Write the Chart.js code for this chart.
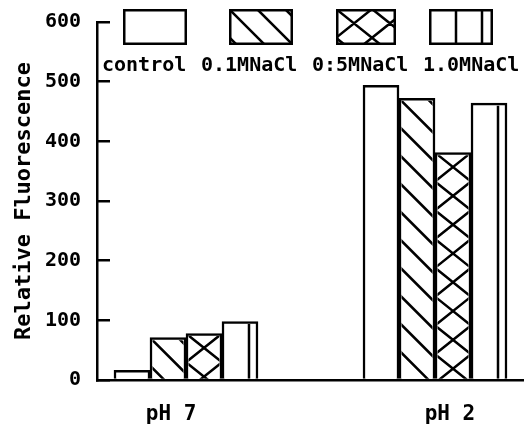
<!DOCTYPE html>
<html>
<head>
<meta charset="utf-8">
<script src="https://cdn.jsdelivr.net/npm/chart.js@4.4.1/dist/chart.umd.min.js"></script>
<style>
  html, body { margin: 0; padding: 0; background: #fff; overflow: hidden; }
</style>
</head>
<body>
<canvas id="chart" width="524" height="429"></canvas>
<script>
// pH groups and the fluorescence of each salt treatment
const groups = ['pH 7', 'pH 2'];
const seriesNames = ['control', '0.1MNaCl', '0:5MNaCl', '1.0MNaCl'];
const control = [16, 494];
const nacl01 = [71, 472];
const nacl05 = [78, 381];
const nacl10 = [98, 464];
const yTicks = [0, 100, 200, 300, 400, 500, 600];

const ink = '#000';
const LINE = 2.5;
const FONT = 'DejaVu Sans Mono';
const hatches = ['plain', 'diag', 'cross', 'vert'];

// legend layout
const legendLeft = [123, 229, 336, 429];
const legendWidth = [64, 64, 60, 64];
const legendTop = 9, legendHeight = 36;
const legendTextX = [102, 201, 312, 423];
const legendTextY = 71;

// where the group names sit, relative to the group centre
const labelShift = [-0.06, 0.06];

// draw the fill pattern anchored at (ax, ay), clipped to the given box
function drawHatch(ctx, kind, ax, ay, aw, cx, cy, cw, ch) {
  if (kind === 'plain' || cw <= 0 || ch <= 0) return;
  ctx.save();
  ctx.beginPath();
  ctx.rect(cx, cy, cw, ch);
  ctx.clip();
  ctx.strokeStyle = ink;
  ctx.lineWidth = LINE;
  ctx.beginPath();
  const bottom = cy + ch;
  const h = bottom - ay;
  if (kind === 'diag') {
    const step = 28;
    for (let k = -Math.ceil(h / step) * step; k <= aw; k += step) {
      ctx.moveTo(ax + k, ay);
      ctx.lineTo(ax + k + h + 2, ay + h + 2);
    }
  } else if (kind === 'cross') {
    const s = 0.8, P = 36 * s;
    const nMax = Math.ceil((h + aw * s) / P) + 1;
    for (let n = -Math.ceil(aw * s / P) - 1; n <= nMax; n++) {
      ctx.moveTo(ax, ay + n * P);
      ctx.lineTo(ax + aw, ay + n * P + aw * s);
      ctx.moveTo(ax, ay + n * P);
      ctx.lineTo(ax + aw, ay + n * P - aw * s);
    }
  } else if (kind === 'vert') {
    for (let x = ax + 27; x < ax + aw; x += 26) {
      ctx.moveTo(x, ay);
      ctx.lineTo(x, bottom);
    }
  }
  ctx.stroke();
  ctx.restore();
}

const hatchBars = {
  id: 'hatchBars',
  afterDatasetsDraw(chart) {
    const ctx = chart.ctx;
    chart.data.datasets.forEach((ds, i) => {
      const meta = chart.getDatasetMeta(i);
      meta.data.forEach(bar => {
        const p = bar.getProps(['x', 'y', 'base', 'width'], true);
        const left = p.x - p.width / 2;
        const top = Math.min(p.y, p.base);
        const hgt = Math.abs(p.base - p.y);
        drawHatch(ctx, ds.hatch, left, top, p.width,
          left + LINE, top + LINE, p.width - 2 * LINE, hgt - LINE);
      });
    });
  }
};

const boxLegend = {
  id: 'boxLegend',
  afterDraw(chart) {
    const ctx = chart.ctx;
    ctx.save();
    chart.data.datasets.forEach((ds, i) => {
      const x = legendLeft[i], w = legendWidth[i];
      ctx.fillStyle = '#fff';
      ctx.fillRect(x, legendTop, w, legendHeight);
      drawHatch(ctx, ds.hatch, x, legendTop, w, x, legendTop, w, legendHeight);
      ctx.strokeStyle = ink;
      ctx.lineWidth = LINE;
      ctx.strokeRect(x + LINE / 2, legendTop + LINE / 2, w - LINE, legendHeight - LINE);
      ctx.fillStyle = ink;
      ctx.font = 'bold 20px "' + FONT + '"';
      ctx.textAlign = 'left';
      ctx.textBaseline = 'alphabetic';
      ctx.fillText(ds.label, legendTextX[i], legendTextY);
    });
    ctx.restore();
  }
};

const toPoints = vals => vals.map((v, i) => ({ x: i + 1, y: v }));

const datasets = [control, nacl01, nacl05, nacl10].map((vals, i) => ({
  label: seriesNames[i],
  data: toPoints(vals),
  hatch: hatches[i],
  backgroundColor: '#fff',
  borderColor: ink,
  borderWidth: LINE,
  borderSkipped: 'start',
  barThickness: 36
}));

new Chart(document.getElementById('chart'), {
  type: 'bar',
  data: { datasets },
  options: {
    responsive: false,
    animation: false,
    devicePixelRatio: 1,
    layout: { padding: { top: 22, right: 0, bottom: 0, left: 0 } },
    plugins: { legend: { display: false }, tooltip: { enabled: false } },
    scales: {
      x: {
        type: 'linear',
        offset: false,
        min: 0.6426,
        max: 2.3574,
        afterBuildTicks: scale => {
          scale.ticks = groups.map((g, i) => ({ value: i + 1 + labelShift[i] }));
        },
        afterFit: scale => {
          scale.height = 49;
          scale.paddingLeft = 0;
          scale.paddingRight = 0;
        },
        grid: { display: false, drawTicks: false },
        border: { display: true, color: ink, width: LINE },
        ticks: {
          padding: 22,
          maxRotation: 0,
          autoSkip: false,
          color: ink,
          font: { family: FONT, size: 21, weight: 'bold' },
          callback: (v, i) => groups[i]
        }
      },
      y: {
        min: 0,
        max: 600,
        afterBuildTicks: scale => {
          scale.ticks = yTicks.map(v => ({ value: v }));
        },
        afterFit: scale => {
          scale.width = 97;
          scale.paddingTop = 0;
          scale.paddingBottom = 0;
        },
        grid: { display: true, drawOnChartArea: false, drawTicks: true, tickLength: -13, color: ink, lineWidth: LINE },
        border: { display: true, color: ink, width: LINE },
        ticks: {
          padding: 29,
          color: ink,
          font: { family: FONT, size: 20, weight: 'bold' }
        },
        title: {
          display: true,
          text: 'Relative Fluorescence',
          color: ink,
          font: { family: FONT, size: 22, weight: 'bold' },
          padding: { top: 11, bottom: 0 }
        }
      }
    }
  },
  plugins: [hatchBars, boxLegend]
});
</script>
</body>
</html>
